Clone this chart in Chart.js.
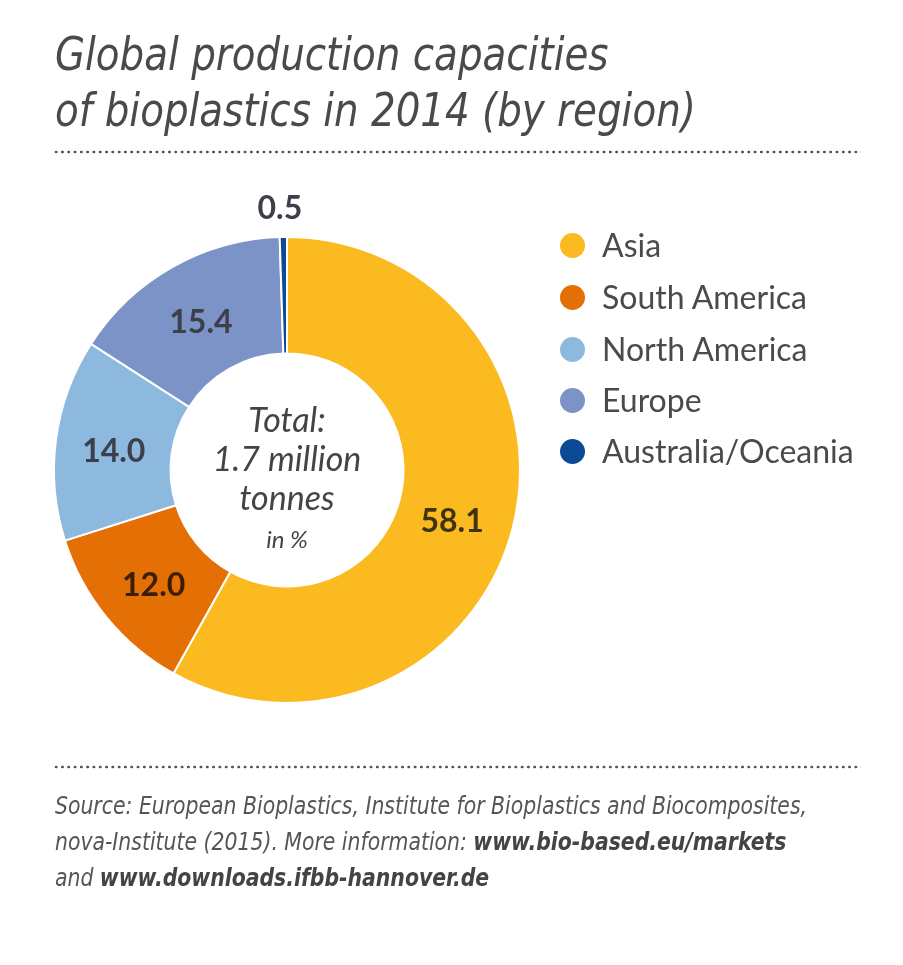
<!DOCTYPE html>
<html>
<head>
<meta charset="utf-8">
<script src="https://cdn.jsdelivr.net/npm/chart.js@4.4.1/dist/chart.umd.min.js"></script>
<style>
  html, body { margin:0; padding:0; background:#fff; }
  body { width:903px; height:965px; position:relative; overflow:hidden; }
  #wrap { position:absolute; left:0; top:0; width:903px; height:965px; }
  .title { position:absolute; left:55px; top:26px; font-family:"Liberation Sans Narrow","DejaVu Sans Condensed",sans-serif; font-stretch:condensed; font-style:italic; font-size:47px; line-height:56px; color:#4a4a4a; white-space:nowrap; transform:scaleX(0.918); transform-origin:0 0; }
  .dots { position:absolute; left:53px; width:808px; height:4px; background-image:radial-gradient(circle, #555 1.2px, rgba(255,255,255,0) 1.7px); background-size:6.3px 4px; background-repeat:repeat-x; }
  .legend { position:absolute; left:560px; top:220px; font-family:Lato,"Open Sans",sans-serif; font-size:32px; color:#4a4a4a; }
  .legend .row { position:absolute; left:0; height:52px; white-space:nowrap; }
  .legend .sw { position:absolute; left:0; width:25px; height:25px; border-radius:50%; }
  .legend .tx { position:absolute; left:42px; top:-8px; line-height:40px; }
  .center { position:absolute; left:177px; width:220px; text-align:center; font-family:Lato,"Open Sans",sans-serif; font-style:italic; color:#444; }
  .source { position:absolute; left:55px; top:788px; font-family:"Liberation Sans Narrow","DejaVu Sans Condensed",sans-serif; font-stretch:condensed; font-style:italic; font-size:24px; line-height:36px; color:#555; white-space:nowrap; transform:scaleX(0.945); transform-origin:0 0; }
  .source b { color:#444; }
</style>
</head>
<body>
<div id="wrap"><canvas id="c" width="903" height="965"></canvas></div>
<div class="title">Global production capacities<br>of bioplastics in 2014 (by region)</div>
<div class="dots" style="top:150px"></div>
<div class="legend" id="legend"></div>
<div class="center" style="top:399px;font-size:34px;line-height:39px">Total:<br>1.7 million<br>tonnes</div>
<div class="center" style="top:524px;font-size:24px;line-height:30px">in %</div>
<div class="dots" style="top:765px"></div>
<div class="source">Source: European Bioplastics, Institute for Bioplastics and Biocomposites,<br>nova-Institute (2015). More information: <b>www.bio-based.eu/markets</b><br>and <b>www.downloads.ifbb-hannover.de</b></div>
<script>
const regions = ["Asia", "South America", "North America", "Europe", "Australia/Oceania"];
const shares = [58.1, 12.0, 14.0, 15.4, 0.5];
const valueLabels = ["58.1", "12.0", "14.0", "15.4", "0.5"];
const colors = ["#FBBA1F", "#E36F05", "#8DB9DE", "#7B93C6", "#0B4A97"];
const labelColors = ["#3f3310", "#3a1e05", "#3d3f4a", "#3d3f4a", "#3d3f4a"];

// HTML legend from data
const leg = document.getElementById('legend');
const rowTops = [13, 65, 117, 168, 219];
regions.forEach((r, i) => {
  const row = document.createElement('div');
  row.className = 'row';
  row.style.top = rowTops[i] + 'px';
  row.innerHTML = '<span class="sw" style="background:' + colors[i] + '"></span><span class="tx">' + r + '</span>';
  leg.appendChild(row);
});

const valueLabelPlugin = {
  id: 'valueLabels',
  afterDatasetsDraw(chart) {
    const ctx = chart.ctx;
    const meta = chart.getDatasetMeta(0);
    ctx.save();
    ctx.font = 'bold 32px Lato, "Open Sans", sans-serif';
    ctx.textAlign = 'center';
    ctx.textBaseline = 'middle';
    meta.data.forEach((arc, i) => {
      let x, y;
      if (shares[i] < 2) {
        const p = arc.getProps(['x','y','startAngle','endAngle','outerRadius'], true);
        const a = (p.startAngle + p.endAngle) / 2;
        const r = p.outerRadius + 28;
        x = p.x + Math.cos(a) * r - 3;
        y = p.y + Math.sin(a) * r;
      } else {
        const pos = arc.tooltipPosition(true);
        x = pos.x; y = pos.y + 5;
        if (i === 0) { x -= 4; y += 3; }
        if (i === 1) { x += 2; }
      }
      ctx.fillStyle = labelColors[i];
      ctx.fillText(valueLabels[i], x, y);
    });
    ctx.restore();
  }
};

new Chart(document.getElementById('c'), {
  type: 'doughnut',
  data: {
    labels: regions,
    datasets: [{
      data: shares,
      backgroundColor: colors,
      borderColor: '#ffffff',
      borderWidth: 2
    }]
  },
  options: {
    responsive: false,
    animation: false,
    cutout: '50%',
    layout: { padding: { left: 53, right: 382, top: 236, bottom: 261 } },
    plugins: { legend: { display: false }, tooltip: { enabled: false } }
  },
  plugins: [valueLabelPlugin]
});
</script>
</body>
</html>
